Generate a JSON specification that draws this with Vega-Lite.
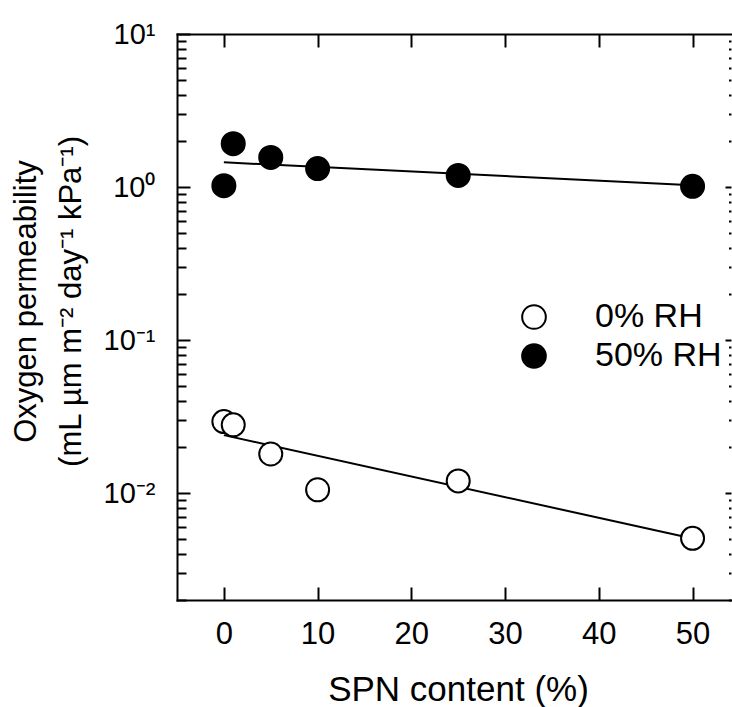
{
  "$schema": "https://vega.github.io/schema/vega-lite/v6.json",
  "width": 554,
  "height": 566,
  "autosize": {"type": "none"},
  "padding": {"left": 177, "top": 34, "right": 1, "bottom": 107},
  "background": "white",
  "config": {
    "view": {"stroke": null},
    "font": "Liberation Sans",
    "axis": {
      "grid": false,
      "domainColor": "black",
      "domainWidth": 2,
      "domainCap": "square",
      "tickColor": "black",
      "tickWidth": 2,
      "labelColor": "black",
      "titleColor": "black",
      "labelFont": "Liberation Sans",
      "titleFont": "Liberation Sans",
      "titleFontWeight": "normal",
      "labelOverlap": false,
      "labelFlush": false
    }
  },
  "datasets": {
    "pts": [
      {"spn": 0, "perm": 0.0293, "series": "0% RH"},
      {"spn": 1, "perm": 0.0279, "series": "0% RH"},
      {"spn": 5, "perm": 0.018, "series": "0% RH"},
      {"spn": 10, "perm": 0.0105, "series": "0% RH"},
      {"spn": 25, "perm": 0.012, "series": "0% RH"},
      {"spn": 50, "perm": 0.00506, "series": "0% RH"},
      {"spn": 0, "perm": 1.02, "series": "50% RH"},
      {"spn": 1, "perm": 1.92, "series": "50% RH"},
      {"spn": 5, "perm": 1.56, "series": "50% RH"},
      {"spn": 10, "perm": 1.32, "series": "50% RH"},
      {"spn": 25, "perm": 1.19, "series": "50% RH"},
      {"spn": 50, "perm": 1.01, "series": "50% RH"}
    ],
    "fit": [
      {"spn": 0, "perm": 0.0239, "series": "0% RH"},
      {"spn": 50, "perm": 0.00505, "series": "0% RH"},
      {"spn": 0, "perm": 1.45, "series": "50% RH"},
      {"spn": 50, "perm": 1.026, "series": "50% RH"}
    ]
  },
  "resolve": {"axis": {"x": "independent", "y": "independent"}},
  "layer": [
    {
      "data": {"name": "fit"},
      "transform": [{"filter": "datum.series == '0% RH'"}],
      "mark": {"type": "line", "color": "black", "strokeWidth": 2},
      "encoding": {
        "x": {"field": "spn", "type": "quantitative", "scale": {"domain": [-5, 54.1], "nice": false, "zero": false},
          "axis": {"orient": "top", "values": [0, 10, 20, 30, 40, 50], "tickSize": -13, "labels": false, "title": null, "domain": true}},
        "y": {"field": "perm", "type": "quantitative", "scale": {"type": "log", "domain": [0.002, 10], "nice": false},
          "axis": {"orient": "right", "values": [0.01, 0.1, 1], "tickSize": -6, "labels": false, "title": null, "domain": false}}
      }
    },
    {
      "data": {"name": "fit"},
      "transform": [{"filter": "datum.series == '50% RH'"}],
      "mark": {"type": "line", "color": "black", "strokeWidth": 2},
      "encoding": {
        "x": {"field": "spn", "type": "quantitative", "axis": null},
        "y": {"field": "perm", "type": "quantitative",
          "axis": {"orient": "right", "values": [0.002, 0.003, 0.004, 0.005, 0.006, 0.007, 0.008, 0.009, 0.02, 0.03, 0.04, 0.05, 0.06, 0.07, 0.08, 0.09, 0.2, 0.3, 0.4, 0.5, 0.6, 0.7, 0.8, 0.9, 2, 3, 4, 5, 6, 7, 8, 9], "tickSize": -2.5, "tickWidth": 2, "labels": false, "title": null, "domain": false}}
      }
    },
    {
      "data": {"name": "pts"},
      "transform": [{"filter": "datum.series == '0% RH'"}],
      "mark": {"type": "point", "shape": "circle", "filled": true, "stroke": "black", "strokeWidth": 2, "size": 530, "opacity": 1},
      "encoding": {
        "x": {"field": "spn", "type": "quantitative", "axis": null},
        "y": {"field": "perm", "type": "quantitative",
          "axis": {"orient": "left", "values": [0.002, 0.003, 0.004, 0.005, 0.006, 0.007, 0.008, 0.009, 0.02, 0.03, 0.04, 0.05, 0.06, 0.07, 0.08, 0.09, 0.2, 0.3, 0.4, 0.5, 0.6, 0.7, 0.8, 0.9, 2, 3, 4, 5, 6, 7, 8, 9], "tickSize": -9, "labels": false, "title": null, "domain": false}},
        "fill": {"field": "series", "type": "nominal",
          "scale": {"domain": ["0% RH", "50% RH"], "range": ["white", "black"]},
          "legend": {"orient": "none", "legendX": 340, "legendY": 266, "title": null, "padding": 0, "symbolType": "circle", "symbolSize": 560, "symbolStrokeColor": "black", "symbolStrokeWidth": 2, "symbolOpacity": 1, "labelFont": "Liberation Sans", "labelFontSize": 34, "labelColor": "black", "labelOffset": 44, "rowPadding": 5}}
      }
    },
    {
      "data": {"name": "pts"},
      "transform": [{"filter": "datum.series == '50% RH'"}],
      "mark": {"type": "point", "shape": "circle", "filled": true, "stroke": "black", "strokeWidth": 2, "size": 530, "opacity": 1},
      "encoding": {
        "x": {"field": "spn", "type": "quantitative",
          "axis": {"orient": "bottom", "values": [0, 10, 20, 30, 40, 50], "tickSize": -13, "labelPadding": 32, "labelFontSize": 31,
            "title": "SPN content (%)", "titleFontSize": 35, "titleBaseline": "alphabetic", "titleAlign": "center", "titleX": 281, "titleY": 100}},
        "y": {"field": "perm", "type": "quantitative",
          "axis": {"orient": "left", "values": [0.01, 0.1, 1, 10], "tickSize": -13, "labelPadding": 35, "labelFontSize": 29,
            "labelExpr": "datum.value >= 9 ? '10¹' : datum.value >= 0.9 ? '10⁰' : datum.value >= 0.09 ? '10⁻¹' : '10⁻²'",
            "title": ["Oxygen permeability", "(mL µm m⁻² day⁻¹ kPa⁻¹)"], "titleFontSize": 31, "titleLineHeight": 45, "titleAngle": 270, "titleAlign": "center", "titleBaseline": "alphabetic", "titleX": -142, "titleY": 267}},
        "fill": {"field": "series", "type": "nominal"}
      }
    }
  ]
}
